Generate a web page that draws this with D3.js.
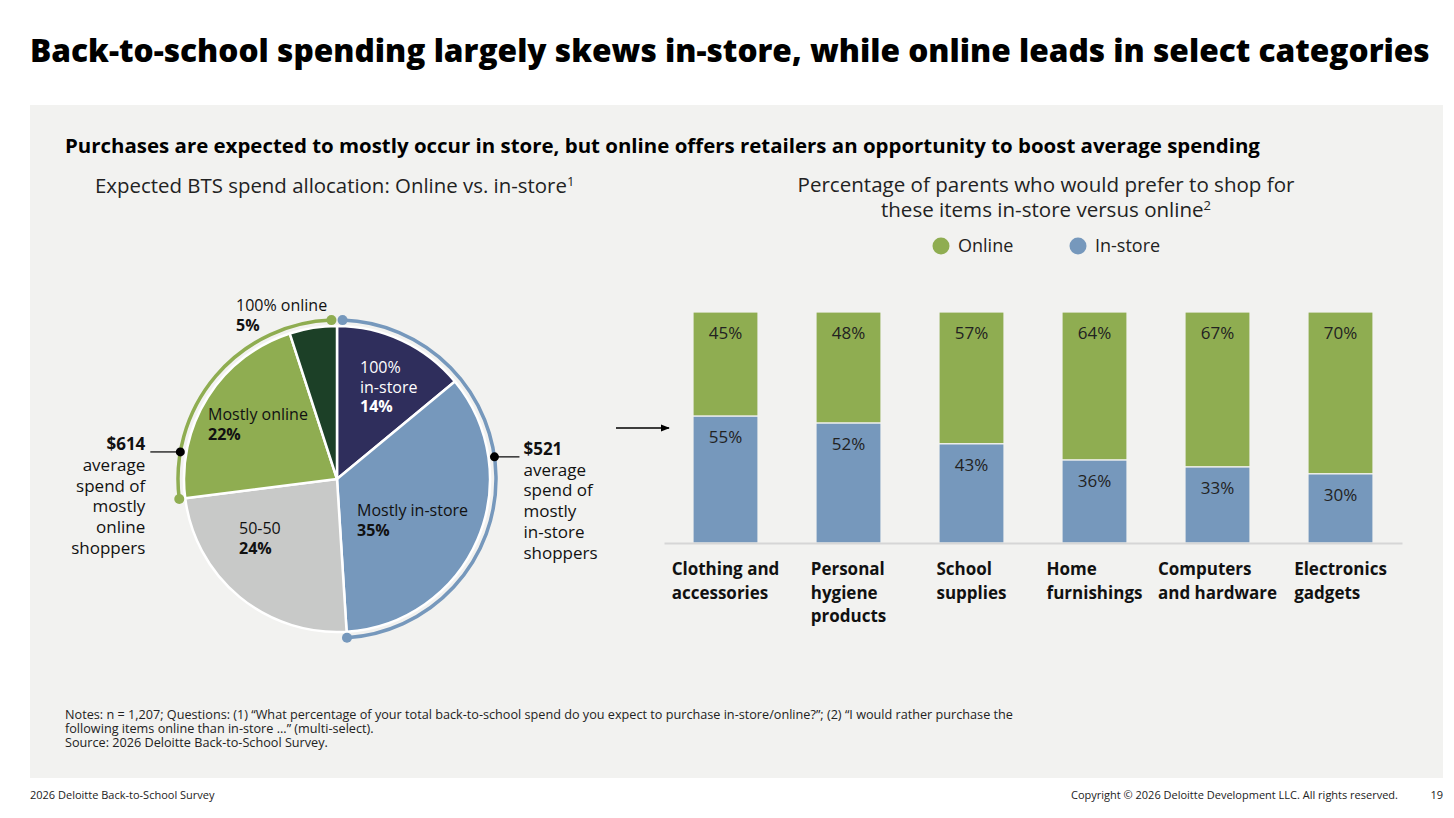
<!DOCTYPE html>
<html>
<head>
<meta charset="utf-8">
<script src="https://cdn.jsdelivr.net/npm/d3@7"></script>
<style>
  body { margin: 0; background: #fff; }
  svg { display: block; font-family: "Open Sans", "Noto Sans", sans-serif; }
</style>
</head>
<body>
<div id="chart"></div>
<script>
// Back-to-school spend: pie of online/in-store allocation + stacked bars by category

// ---- data ----
const pieLabels = ["100% in-store", "Mostly in-store", "50-50", "Mostly online", "100% online"];
const pieValues = [14, 35, 24, 22, 5];
const pieColors = ["#2f2e5c", "#7698bc", "#c8c9c8", "#8fad51", "#1c4027"];

const categories = [
  ["Clothing and", "accessories"],
  ["Personal", "hygiene", "products"],
  ["School", "supplies"],
  ["Home", "furnishings"],
  ["Computers", "and hardware"],
  ["Electronics", "gadgets"]
];
const onlinePct = [45, 48, 57, 64, 67, 70];
const inStorePct = [55, 52, 43, 36, 33, 30];

const callouts = [
  { value: "$614", lines: ["average", "spend of", "mostly", "online", "shoppers"] },
  { value: "$521", lines: ["average", "spend of", "mostly", "in-store", "shoppers"] }
];

const GREEN = "#8fad51", BLUE = "#7698bc", TEXT = "#111";

const W = 1454, H = 818;
const svg = d3.select("#chart").append("svg")
  .attr("width", W)
  .attr("height", H);

// fit a text element to a target width by adjusting font-size
// (measureNode lets a multi-line text be sized from one of its lines)
function fit(sel, width, measureNode) {
  const node = measureNode || sel.node();
  const fs = parseFloat(sel.style("font-size"));
  const w = node.getComputedTextLength();
  if (w > 0) sel.style("font-size", (fs * width / w).toFixed(2) + "px");
  return sel;
}

// background panel
svg.append("rect")
  .attr("x", 30).attr("y", 105)
  .attr("width", 1413).attr("height", 673)
  .attr("fill", "#f2f2f0");

// main title
fit(svg.append("text")
  .attr("x", 30).attr("y", 62)
  .style("font-size", "32px")
  .style("font-weight", 800)
  .attr("fill", "#000")
  .text("Back-to-school spending largely skews in-store, while online leads in select categories"), 1400);

fit(svg.append("text")
  .attr("x", 65).attr("y", 153)
  .style("font-size", "20px")
  .style("font-weight", 700)
  .attr("fill", "#000")
  .text("Purchases are expected to mostly occur in store, but online offers retailers an opportunity to boost average spending"), 1195);

// left sub title
const leftTitle = svg.append("text")
  .attr("x", 95).attr("y", 193)
  .style("font-size", "18.5px")
  .attr("fill", "#222");
const lt1 = leftTitle.append("tspan").text("Expected BTS spend allocation: Online vs. in-store");
fit(leftTitle, 472, lt1.node());
leftTitle.append("tspan").attr("dy", -7).style("font-size", "13px").text("1");

// right sub title
const rightTitle = svg.append("text")
  .attr("text-anchor", "middle")
  .style("font-size", "18.5px")
  .attr("fill", "#222");
const rt1 = rightTitle.append("tspan").attr("x", 1046).attr("y", 192)
  .text("Percentage of parents who would prefer to shop for");
fit(rightTitle, 497, rt1.node());
const rt2 = rightTitle.append("tspan").attr("x", 1046).attr("y", 217);
rt2.append("tspan").text("these items in-store versus online");
rt2.append("tspan").attr("dy", -7).style("font-size", "13px").text("2");

// ---- pie ----
const cx = 337, cy = 479, r = 153;
const pieG = svg.append("g").attr("transform", `translate(${cx},${cy})`);
const pie = d3.pie().sort(null).value(d => d);
const arcs = pie(pieValues);
const arc = d3.arc().innerRadius(0).outerRadius(r);

pieG.selectAll("path.slice")
  .data(arcs)
  .join("path")
  .attr("class", "slice")
  .attr("d", arc)
  .attr("fill", (d, i) => pieColors[i])
  .attr("stroke", "#fff")
  .attr("stroke-width", 2.5)
  .attr("stroke-linejoin", "round");

// outer bracket arcs: in-store group (first two slices) and online group (last two)
const ringR = 159;
const gap = 0.035;
const groups = [
  { start: arcs[0].startAngle + gap, end: arcs[1].endAngle, color: BLUE },
  { start: arcs[3].startAngle, end: arcs[4].endAngle - gap, color: GREEN }
];
const ring = d3.arc().innerRadius(ringR).outerRadius(ringR);
const polar = (a, rad) => [Math.sin(a) * rad, -Math.cos(a) * rad];

groups.forEach(g => {
  pieG.append("path")
    .attr("d", ring({ startAngle: g.start, endAngle: g.end }))
    .attr("fill", "none")
    .attr("stroke", g.color)
    .attr("stroke-width", 3.5);
  [g.start, g.end].forEach(a => {
    const [px, py] = polar(a, ringR);
    pieG.append("circle")
      .attr("cx", px).attr("cy", py)
      .attr("r", 5)
      .attr("fill", g.color);
  });
});

// callouts ($614 on the online side, $521 on the in-store side)
const calloutAngles = [279.8 * Math.PI / 180, 82 * Math.PI / 180];
callouts.forEach((c, i) => {
  const [px, py] = polar(calloutAngles[i], ringR);
  const left = i === 0;
  const lx = left ? px - 30 : px + 25;
  pieG.append("line")
    .attr("x1", px).attr("y1", py)
    .attr("x2", lx).attr("y2", py)
    .attr("stroke", "#000").attr("stroke-width", 1.2);
  pieG.append("circle")
    .attr("cx", px).attr("cy", py).attr("r", 4.5)
    .attr("fill", "#000");
  const t = pieG.append("text")
    .attr("text-anchor", left ? "end" : "start")
    .style("font-size", "17px")
    .attr("fill", TEXT);
  const tx = left ? lx - 5 : lx + 4;
  t.append("tspan").attr("x", tx).attr("y", py - 2)
    .style("font-weight", 700).text(c.value);
  c.lines.forEach((l, j) => {
    t.append("tspan").attr("x", tx).attr("y", py - 2 + (j + 1) * 20.8).text(l);
  });
});

// slice labels (offsets from pie centre)
const sliceLabelPos = [
  { x: 23, y: -106, color: "#fff", lines: ["100%", "in-store"] },
  { x: 20, y: 37, color: TEXT, lines: ["Mostly in-store"] },
  { x: -98, y: 55, color: TEXT, lines: ["50-50"] },
  { x: -129, y: -59, color: TEXT, lines: ["Mostly online"] },
  { x: -101, y: -168, color: TEXT, lines: ["100% online"] }
];
sliceLabelPos.forEach((p, i) => {
  const t = pieG.append("text")
    .style("font-size", "16px")
    .attr("fill", p.color);
  p.lines.forEach((l, j) => {
    t.append("tspan").attr("x", p.x).attr("y", p.y + j * 19.5).text(l);
  });
  t.append("tspan").attr("x", p.x).attr("y", p.y + p.lines.length * 19.5)
    .style("font-weight", 700)
    .text(pieValues[i] + "%");
});

// ---- stacked bars ----
const x = d3.scaleBand()
  .domain(d3.range(categories.length))
  .range([664, 1402]);
const barW = 65;
const y = d3.scaleLinear().domain([0, 100]).range([543, 312]);

const rows = categories.map((c, i) => ({ i, inStore: inStorePct[i], online: onlinePct[i] }));
const stack = d3.stack().keys(["inStore", "online"]);
const series = stack(rows);
const barColors = { inStore: BLUE, online: GREEN };

const barsG = svg.append("g");
series.forEach(s => {
  barsG.selectAll(null)
    .data(s)
    .join("rect")
    .attr("x", d => x(d.data.i) + (x.bandwidth() - barW) / 2)
    .attr("y", d => y(d[1]))
    .attr("width", barW)
    .attr("height", d => y(d[0]) - y(d[1]))
    .attr("fill", barColors[s.key])
    .attr("stroke", "#f2f2f0")
    .attr("stroke-width", 1.2);

  barsG.selectAll(null)
    .data(s)
    .join("text")
    .attr("x", d => x(d.data.i) + x.bandwidth() / 2)
    .attr("y", d => y(d[1]) + 27)
    .attr("text-anchor", "middle")
    .style("font-size", "17px")
    .attr("fill", "#222")
    .text(d => d.data[s.key] + "%");
});

// baseline axis
const axisG = svg.append("g")
  .attr("transform", `translate(0,${y(0)})`)
  .call(d3.axisBottom(x).tickSize(0).tickFormat("").tickSizeOuter(0));
axisG.select(".domain").attr("stroke", "#d6d6d6").attr("stroke-width", 2);

// category labels: left-aligned blocks centred under each bar
categories.forEach((lines, i) => {
  const t = svg.append("text")
    .style("font-size", "17px")
    .style("font-weight", 700)
    .attr("fill", TEXT);
  const spans = lines.map((l, j) =>
    t.append("tspan").attr("y", 575 + j * 23.5).text(l));
  const maxW = d3.max(spans, s => s.node().getComputedTextLength());
  const left = x(i) + x.bandwidth() / 2 - maxW / 2;
  spans.forEach(s => s.attr("x", left));
});

// arrow from pie to bars
const defs = svg.append("defs");
defs.append("marker")
  .attr("id", "arrowhead")
  .attr("viewBox", "0 0 10 10")
  .attr("refX", 9).attr("refY", 5)
  .attr("markerWidth", 6).attr("markerHeight", 6)
  .attr("orient", "auto")
  .append("path")
  .attr("d", "M0,1 L10,5 L0,9 z")
  .attr("fill", "#000");
svg.append("line")
  .attr("x1", 616).attr("y1", 428)
  .attr("x2", 669).attr("y2", 428)
  .attr("stroke", "#000").attr("stroke-width", 1.5)
  .attr("marker-end", "url(#arrowhead)");

// legend
const legendItems = [
  { label: "Online", color: GREEN, x: 941 },
  { label: "In-store", color: BLUE, x: 1078 }
];
legendItems.forEach(d => {
  svg.append("circle")
    .attr("cx", d.x).attr("cy", 246).attr("r", 8.5)
    .attr("fill", d.color);
  svg.append("text")
    .attr("x", d.x + 17).attr("y", 252)
    .style("font-size", "18px")
    .attr("fill", "#222")
    .text(d.label);
});

// notes
const notes = [
  "Notes: n = 1,207; Questions: (1) \u201cWhat percentage of your total back-to-school spend do you expect to purchase in-store/online?\u201d; (2) \u201cI would rather purchase the",
  "following items online than in-store ...\u201d (multi-select).",
  "Source: 2026 Deloitte Back-to-School Survey."
];
const notesT = svg.append("text")
  .style("font-size", "12.5px")
  .attr("fill", "#222");
const noteSpans = notes.map((n, i) =>
  notesT.append("tspan").attr("x", 65).attr("y", 719 + i * 14).text(n));
fit(notesT, 949, noteSpans[0].node());

// footer
svg.append("text")
  .attr("x", 30).attr("y", 799)
  .style("font-size", "11px")
  .attr("fill", "#222")
  .text("2026 Deloitte Back-to-School Survey");
svg.append("text")
  .attr("x", 1398).attr("y", 799)
  .attr("text-anchor", "end")
  .style("font-size", "11px")
  .attr("fill", "#222")
  .text("Copyright \u00a9 2026 Deloitte Development LLC. All rights reserved.");
svg.append("text")
  .attr("x", 1443).attr("y", 799)
  .attr("text-anchor", "end")
  .style("font-size", "11px")
  .attr("fill", "#222")
  .text("19");
</script>
</body>
</html>
